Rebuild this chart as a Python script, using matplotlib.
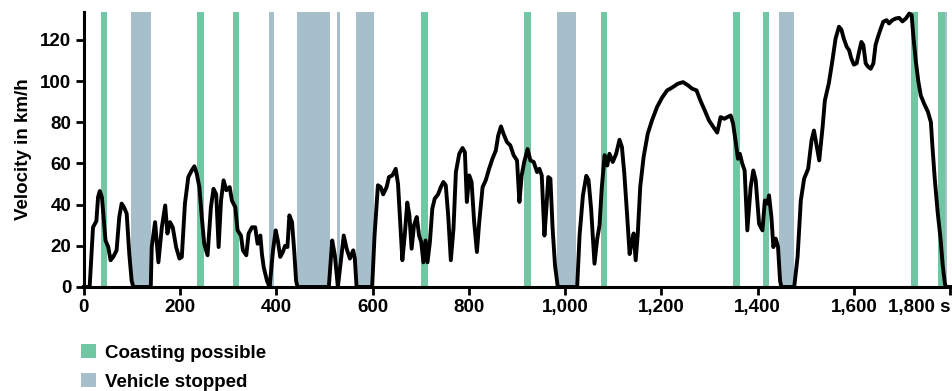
import matplotlib
matplotlib.use('Agg')
import matplotlib.pyplot as plt
from matplotlib.patches import Patch

plt.rcParams['font.family'] = ['Liberation Sans', 'DejaVu Sans']
plt.rcParams['font.weight'] = 'bold'

# velocity profile (time in s, velocity in km/h)
time_s = [0, 12, 19, 26, 29.5, 33, 37.5, 41.7, 45, 50.7, 55.5, 61, 68, 73.6, 78.5, 83.3, 89, 94.4, 99.3, 102.8,
          139, 141, 148, 154.9, 162, 169, 173.6, 179, 184.7, 191.7, 198.6, 203.5, 210, 217, 224, 229.6, 234.6,
          240, 245, 250, 257, 264, 269.4, 275, 280, 285, 290.3, 296, 303, 307.6, 314.6, 319.4, 326.4, 330.5,
          337.5, 342.4, 349.3, 356, 361, 366.7, 370, 373.6, 380.5, 386, 393, 398.6, 403, 408, 413.5, 418, 423,
          427, 432.5, 437, 441, 444,
          509, 516, 521.5, 527.8, 533, 540, 546, 552.8, 559.7, 563, 566.7,
          599, 604, 611, 616.7, 622, 629, 634, 641, 648, 652.8, 657, 661.8, 666.7, 672, 676.4, 681, 686, 691.7,
          696.5, 701, 705.5, 710, 714, 719, 724, 729, 736, 741.7, 747, 752, 757, 762.5, 768, 773, 780, 786.8,
          791.7, 795.8, 800.7, 805.6, 811, 816.7, 821.5, 828.5, 835, 842, 849, 856, 861, 866.7, 872, 879, 886,
          893, 900, 905, 909.7, 915, 922, 927.8, 934.7, 941.7, 946.5, 951.4, 957, 961, 965, 969.4, 974, 979,
          984.7,
          1025, 1030, 1037, 1044, 1048.6, 1054, 1061, 1066.7, 1071.5, 1076, 1082, 1087.5, 1092, 1099, 1106,
          1113, 1118, 1123, 1128.6, 1134, 1139, 1142.4, 1146.6, 1151, 1156, 1163, 1171.6, 1180.6, 1191, 1201.5,
          1212, 1222, 1234, 1245, 1255, 1264, 1273, 1281, 1290, 1298.7, 1308, 1316, 1323, 1331, 1337, 1344,
          1349, 1354, 1359, 1363, 1368, 1373, 1378.6, 1385.5, 1391, 1396, 1403, 1410, 1415, 1420, 1423.7,
          1428.6, 1432.7, 1437.6, 1442.4, 1446.6, 1449.4,
          1476, 1483, 1489.7, 1496.6, 1505, 1512, 1517, 1523, 1528, 1535, 1539.7, 1548, 1555, 1562, 1569, 1574,
          1579, 1585, 1590, 1594.6, 1600, 1605.7, 1610.6, 1615.5, 1619.7, 1624.5, 1629.4, 1635, 1640.5, 1645,
          1650, 1656, 1661, 1668, 1673, 1680, 1687, 1694, 1701, 1708, 1715, 1720, 1724, 1729, 1734, 1739,
          1746, 1754, 1760, 1763, 1768, 1774, 1780, 1784.5, 1789, 1791, 1800]
velocity_kmh = [0, 0, 29, 32, 43.7, 46.6, 43.7, 32, 22.6, 19.4, 13, 14.6, 17.8, 34, 40.5, 38.8, 35.6, 16, 3, 0,
                0, 19.4, 31.5, 12, 29, 39.6, 26, 31.5, 29, 19.4, 13.8, 14.6, 40.5, 53.4, 56.6, 58.6, 55,
                48.5, 34, 21, 15.4, 38.8, 47.7, 45, 19.4, 42, 51.8, 47, 48.5, 42, 38.8, 27.5, 25, 17.8,
                15.4, 26, 29, 29, 21, 25, 16, 9.7, 3, 0, 17.8, 27.5, 22.6, 14.6, 17, 20, 19.4,
                34.8, 31.5, 17.8, 3, 0,
                0, 22.6, 15.4, 0, 10.5, 25, 18.6, 13.8, 17.8, 13.8, 0,
                0, 25, 49.4, 48.5, 45, 48.5, 53.4, 54.2, 57.4, 50, 33, 13, 25, 41, 34.8, 18.6, 30, 34,
                25, 21.8, 12, 22.6, 12, 21.8, 38, 42.9, 45, 48.5, 51, 49.4, 34.8, 13, 28.3, 55.8, 64.7, 67.5,
                65.5, 41.3, 54.2, 51, 31.5, 17, 31.5, 48.5, 51.8, 57.4, 62.3, 66.3, 73.6, 78, 74.4, 70.4, 68.8,
                64, 61.5, 41.3, 54.2, 60.7, 67, 61.5, 60.7, 55.8, 57.4, 54.2, 25, 38, 53.4, 52.6, 28.3, 10.5,
                0,
                0, 25, 44.5, 54, 52, 38, 11.3, 23.5, 30, 47.7, 64, 59, 64.7, 60.7, 64.7,
                71.5, 68, 55, 35.6, 16, 22.6, 26, 13, 26, 48.5, 63, 74.4, 81, 87.4, 92,
                95.5, 96.8, 98.7, 99.5, 98, 96.3, 95.5, 90.6, 85.8, 81, 77.7, 75, 82.5, 81.7, 82.5, 83.3,
                79.3, 71.2, 62.3, 64.7, 60, 56.6, 27.5, 48.5, 56.6, 51.8, 30.7, 27.5, 42, 40.5, 44.5,
                34, 19.4, 23.5, 19.4, 3, 0,
                0, 14.6, 42, 52.6, 57.4, 71.2, 76, 68, 61.5, 77.7, 90.6, 99, 109.4, 120.7, 126.4, 125,
                120.7, 116.7, 115, 111, 108, 108.6, 114, 119, 117.5, 108.6, 107, 106, 108.6, 117.5,
                121.5, 125.6, 128.8, 129.6, 128, 129.6, 130.4, 130.7, 129, 130.4, 132.8, 132, 120.7, 109, 99.7, 93,
                89, 85, 80, 69, 52.6, 36.5, 23.6, 10.7, 1.8, 0, 0]

coasting_start = [35, 235, 310, 700, 915, 1075, 1349, 1412, 1719, 1775]
coasting_end = [48, 249, 323, 715, 929, 1087, 1364, 1424, 1734, 1789]
stopped_start = [98, 385, 442, 527, 565, 983, 1445, 1789]
stopped_end = [140, 396, 511, 533, 602, 1023, 1476, 1793]

x_ticks = [0, 200, 400, 600, 800, 1000, 1200, 1400, 1600, 1800]
x_labels = ['0', '200', '400', '600', '800', '1,000', '1,200', '1,400', '1,600', '1,800 s']
y_ticks = [0, 20, 40, 60, 80, 100, 120]

green = '#71C6A3'
grey_blue = '#A7BFCB'

fig = plt.figure(figsize=(9.53, 3.91), dpi=100)
ax = fig.add_axes([0.088, 0.266, 0.909, 0.703])

for s, e in zip(coasting_start, coasting_end):
    ax.axvspan(s, e, color=green, lw=0, zorder=0)
for s, e in zip(stopped_start, stopped_end):
    ax.axvspan(s, e, color=grey_blue, lw=0, zorder=0)

ax.plot(time_s, velocity_kmh, color='black', lw=2.8, solid_joinstyle='round', clip_on=False, zorder=3)

ax.set_xlim(0, 1800)
ax.set_ylim(0, 133.5)
ax.set_xticks(x_ticks)
ax.set_xticklabels(x_labels, fontweight='bold')
ax.get_xticklabels()[-1].set_horizontalalignment('right')
ax.set_yticks(y_ticks)
ax.set_ylabel('Velocity in km/h', fontsize=13.5, fontweight='bold', labelpad=6)
ax.tick_params(labelsize=13.5, width=2, length=6, direction='out', pad=3)

for side in ['top', 'right']:
    ax.spines[side].set_visible(False)
for side in ['left', 'bottom']:
    ax.spines[side].set_linewidth(2.2)
    ax.spines[side].set_zorder(4)

handles = [Patch(color=green, lw=0, label='Coasting possible'),
           Patch(color=grey_blue, lw=0, label='Vehicle stopped')]
fig.legend(handles=handles, loc='upper left', bbox_to_anchor=(0.0845, 0.12), frameon=False,
           prop={'weight': 'bold', 'size': 13.5}, handlelength=0.8, handleheight=0.8,
           handletextpad=0.5, labelspacing=0.6, borderpad=0, borderaxespad=0)

fig.savefig('out.png', dpi=100)
